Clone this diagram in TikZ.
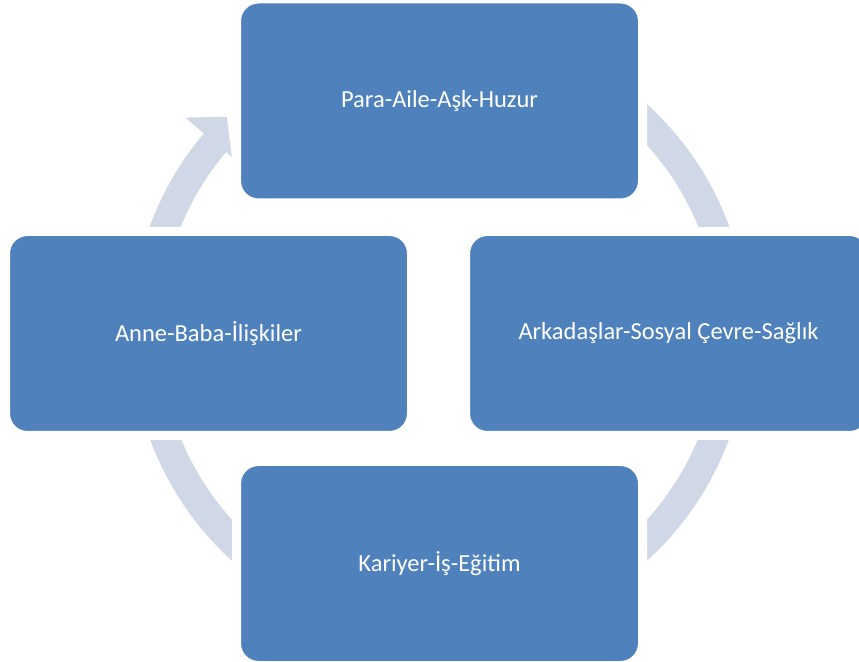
\documentclass[tikz,border=0pt]{standalone}
\usepackage{fontspec}
\setmainfont{Carlito}
\definecolor{boxblue}{RGB}{79,129,189}
\definecolor{ringblue}{RGB}{208,216,232}
\begin{document}
\begin{tikzpicture}[x=1pt,y=1pt,
  cyclebox/.style={rectangle, rounded corners=22pt, fill=boxblue, draw=white, line width=9pt,
    minimum width=406pt, minimum height=204pt, text=white, font=\fontsize{24.5}{29}\selectfont, inner sep=0pt},
  ringline/.style={draw=ringblue, line width=29pt}]
\clip (0,0) rectangle (859,661);
\fill[white] (0,0) rectangle (859,661);
\coordinate (C) at (439.5,328.5);
% ring
\draw[ringline] ([shift={(139.3:294)}]C) arc[start angle=139.3, end angle=460, radius=294];
% arrow head
\fill[ringblue] ([shift={(139.8:333)}]C) -- ([shift={(134.6:303)}]C) -- ([shift={(139.8:272)}]C) -- cycle;
% boxes
\node[cyclebox] (top) at (439.5,560) {Para-Aile-Aşk-Huzur};
\node[cyclebox] (left) at (208.5,327.5) {Anne-Baba-İlişkiler};
\node[cyclebox] (right) at (668.5,327.5) {Arkadaşlar-Sosyal Çevre-Sağlık};
\node[cyclebox] (bottom) at (439.5,97.5) {Kariyer-İş-Eğitim};
\end{tikzpicture}
\end{document}
